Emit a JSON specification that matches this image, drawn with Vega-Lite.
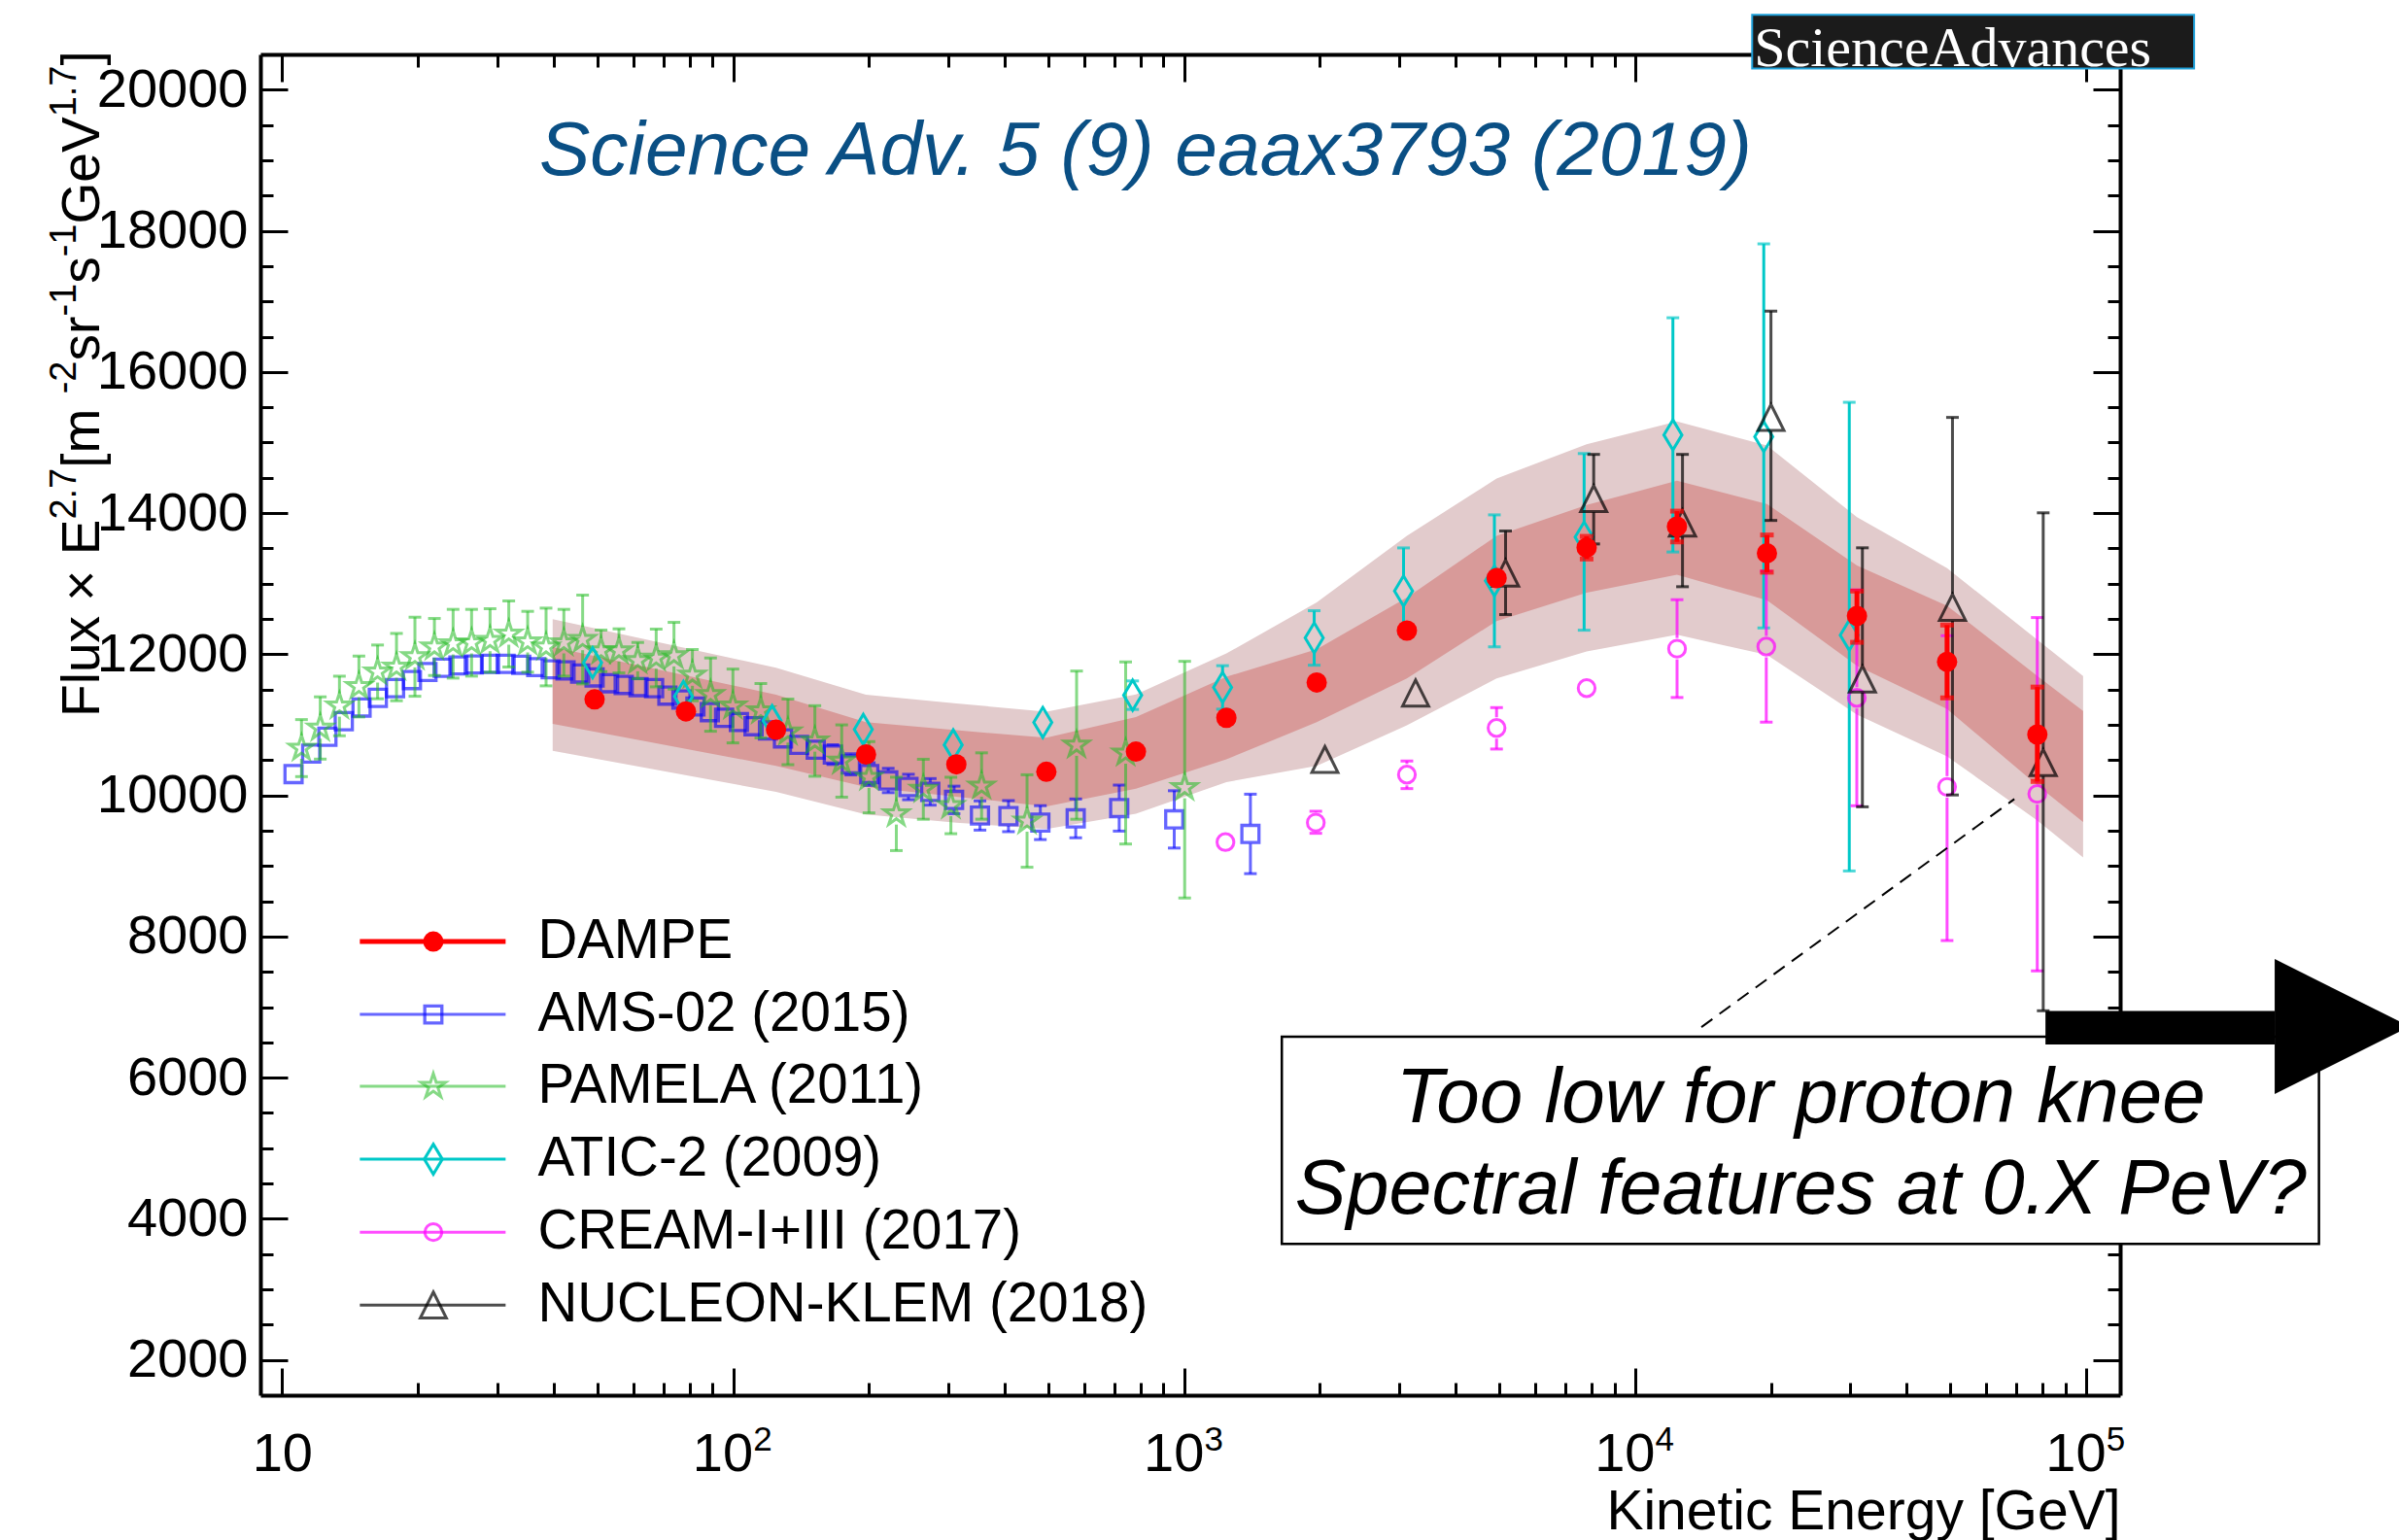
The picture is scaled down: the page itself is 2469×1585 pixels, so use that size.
{
  "$schema": "https://vega.github.io/schema/vega-lite/v6.json",
  "width": 1914,
  "height": 1380,
  "autosize": {"type": "none"},
  "padding": {"left": 268, "top": 56, "right": 287, "bottom": 149},
  "background": "white",
  "config": {"font": "Liberation Sans", "view": {"stroke": null}, "axis": {"grid": false, "zindex": 0}},
  "resolve": {"axis": {"x": "independent", "y": "independent"}},
  "datasets": {
    "band": [
      {"E": 39.8, "olo": 10633, "ilo": 11015, "ihi": 12103, "ohi": 12498},
      {"E": 124.5, "olo": 10050, "ilo": 10418, "ihi": 11428, "ohi": 11809},
      {"E": 197, "olo": 9729, "ilo": 10119, "ihi": 11038, "ohi": 11428},
      {"E": 312.6, "olo": 9614, "ilo": 9982, "ihi": 10923, "ohi": 11304},
      {"E": 495, "olo": 9522, "ilo": 9844, "ihi": 10817, "ohi": 11185},
      {"E": 782, "olo": 9740, "ilo": 10096, "ihi": 11110, "ohi": 11430},
      {"E": 1241, "olo": 10188, "ilo": 10510, "ihi": 11680, "ohi": 12011},
      {"E": 1968, "olo": 10418, "ilo": 11038, "ihi": 12071, "ohi": 12736},
      {"E": 3119, "olo": 10992, "ilo": 11657, "ihi": 12805, "ohi": 13678},
      {"E": 4931, "olo": 11657, "ilo": 12470, "ihi": 13678, "ohi": 14490},
      {"E": 7808, "olo": 12039, "ilo": 12874, "ihi": 14114, "ohi": 14974},
      {"E": 12384, "olo": 12277, "ilo": 13127, "ihi": 14458, "ohi": 15300},
      {"E": 19605, "olo": 11990, "ilo": 12765, "ihi": 14130, "ohi": 14958},
      {"E": 31045, "olo": 11144, "ilo": 11838, "ihi": 13258, "ohi": 13942},
      {"E": 49180, "olo": 10553, "ilo": 11225, "ihi": 12688, "ohi": 13219},
      {"E": 77980, "olo": 9645, "ilo": 10143, "ihi": 11692, "ohi": 12205},
      {"E": 98500, "olo": 9120, "ilo": 9624, "ihi": 11197, "ohi": 11692}
    ],
    "ams": [
      {"E": 10.6, "flux": 10302, "lo": 10242, "hi": 10362},
      {"E": 11.6, "flux": 10592, "lo": 10532, "hi": 10652},
      {"E": 12.6, "flux": 10831, "lo": 10771, "hi": 10891},
      {"E": 13.7, "flux": 11052, "lo": 10992, "hi": 11112},
      {"E": 15.0, "flux": 11245, "lo": 11185, "hi": 11305},
      {"E": 16.3, "flux": 11382, "lo": 11322, "hi": 11442},
      {"E": 17.8, "flux": 11520, "lo": 11460, "hi": 11580},
      {"E": 19.4, "flux": 11634, "lo": 11574, "hi": 11694},
      {"E": 21.0, "flux": 11749, "lo": 11689, "hi": 11809},
      {"E": 22.7, "flux": 11809, "lo": 11749, "hi": 11869},
      {"E": 24.6, "flux": 11841, "lo": 11781, "hi": 11901},
      {"E": 26.6, "flux": 11855, "lo": 11795, "hi": 11915},
      {"E": 28.9, "flux": 11864, "lo": 11804, "hi": 11924},
      {"E": 31.3, "flux": 11864, "lo": 11804, "hi": 11924},
      {"E": 33.9, "flux": 11851, "lo": 11791, "hi": 11911},
      {"E": 36.6, "flux": 11818, "lo": 11758, "hi": 11878},
      {"E": 39.4, "flux": 11786, "lo": 11726, "hi": 11846},
      {"E": 42.5, "flux": 11772, "lo": 11712, "hi": 11832},
      {"E": 45.8, "flux": 11727, "lo": 11667, "hi": 11787},
      {"E": 49.3, "flux": 11672, "lo": 11602, "hi": 11742},
      {"E": 53.1, "flux": 11589, "lo": 11519, "hi": 11659},
      {"E": 57.2, "flux": 11565, "lo": 11495, "hi": 11635},
      {"E": 61.7, "flux": 11534, "lo": 11454, "hi": 11614},
      {"E": 66.8, "flux": 11520, "lo": 11440, "hi": 11600},
      {"E": 71.5, "flux": 11414, "lo": 11334, "hi": 11494},
      {"E": 76.8, "flux": 11359, "lo": 11269, "hi": 11449},
      {"E": 82.5, "flux": 11260, "lo": 11170, "hi": 11350},
      {"E": 88.8, "flux": 11180, "lo": 11090, "hi": 11270},
      {"E": 95.5, "flux": 11100, "lo": 11000, "hi": 11200},
      {"E": 103, "flux": 11040, "lo": 10940, "hi": 11140},
      {"E": 111, "flux": 10980, "lo": 10880, "hi": 11080},
      {"E": 119.5, "flux": 10920, "lo": 10810, "hi": 11030},
      {"E": 129, "flux": 10808, "lo": 10698, "hi": 10918},
      {"E": 140, "flux": 10716, "lo": 10596, "hi": 10836},
      {"E": 152.5, "flux": 10647, "lo": 10517, "hi": 10777},
      {"E": 166.4, "flux": 10578, "lo": 10438, "hi": 10718},
      {"E": 182.4, "flux": 10440, "lo": 10290, "hi": 10590},
      {"E": 200.4, "flux": 10302, "lo": 10142, "hi": 10462},
      {"E": 220.8, "flux": 10211, "lo": 10039, "hi": 10383},
      {"E": 244.8, "flux": 10119, "lo": 9939, "hi": 10299},
      {"E": 273.6, "flux": 10050, "lo": 9862, "hi": 10238},
      {"E": 309, "flux": 9936, "lo": 9741, "hi": 10131},
      {"E": 352.7, "flux": 9715, "lo": 9508, "hi": 9922},
      {"E": 407.9, "flux": 9706, "lo": 9486, "hi": 9926},
      {"E": 480, "flux": 9614, "lo": 9374, "hi": 9854},
      {"E": 575, "flux": 9674, "lo": 9399, "hi": 9949},
      {"E": 718, "flux": 9820, "lo": 9494, "hi": 10146},
      {"E": 951, "flux": 9660, "lo": 9254, "hi": 10066},
      {"E": 1403, "flux": 9454, "lo": 8891, "hi": 10017}
    ],
    "pamela": [
      {"E": 11.04, "flux": 10670, "lo": 10266, "hi": 11074},
      {"E": 12.15, "flux": 10955, "lo": 10514, "hi": 11396},
      {"E": 13.4, "flux": 11267, "lo": 10845, "hi": 11689},
      {"E": 14.8, "flux": 11543, "lo": 11112, "hi": 11974},
      {"E": 16.28, "flux": 11750, "lo": 11369, "hi": 12131},
      {"E": 17.93, "flux": 11818, "lo": 11341, "hi": 12295},
      {"E": 19.7, "flux": 11965, "lo": 11405, "hi": 12525},
      {"E": 21.76, "flux": 12103, "lo": 11699, "hi": 12507},
      {"E": 23.94, "flux": 12149, "lo": 11662, "hi": 12636},
      {"E": 26.31, "flux": 12163, "lo": 11690, "hi": 12636},
      {"E": 28.91, "flux": 12195, "lo": 11745, "hi": 12645},
      {"E": 31.81, "flux": 12287, "lo": 11819, "hi": 12755},
      {"E": 35.03, "flux": 12177, "lo": 11746, "hi": 12608},
      {"E": 38.48, "flux": 12103, "lo": 11552, "hi": 12654},
      {"E": 42.14, "flux": 12163, "lo": 11690, "hi": 12636},
      {"E": 46.38, "flux": 12209, "lo": 11580, "hi": 12838},
      {"E": 50.96, "flux": 12048, "lo": 11754, "hi": 12342},
      {"E": 55.83, "flux": 12048, "lo": 11736, "hi": 12360},
      {"E": 61.45, "flux": 11910, "lo": 11653, "hi": 12167},
      {"E": 67.52, "flux": 11947, "lo": 11538, "hi": 12356},
      {"E": 73.94, "flux": 11979, "lo": 11506, "hi": 12452},
      {"E": 81.23, "flux": 11704, "lo": 11341, "hi": 12067},
      {"E": 89.13, "flux": 11428, "lo": 10909, "hi": 11947},
      {"E": 99.9, "flux": 11267, "lo": 10744, "hi": 11790},
      {"E": 115.2, "flux": 11200, "lo": 10814, "hi": 11586},
      {"E": 132.3, "flux": 10900, "lo": 10435, "hi": 11365},
      {"E": 151.8, "flux": 10771, "lo": 10271, "hi": 11271},
      {"E": 174.1, "flux": 10487, "lo": 9975, "hi": 10999},
      {"E": 200.1, "flux": 10257, "lo": 9752, "hi": 10762},
      {"E": 230.1, "flux": 9738, "lo": 9218, "hi": 10258},
      {"E": 264.1, "flux": 10087, "lo": 9662, "hi": 10512},
      {"E": 304, "flux": 9857, "lo": 9457, "hi": 10257},
      {"E": 355.6, "flux": 10133, "lo": 9663, "hi": 10603},
      {"E": 448.5, "flux": 9637, "lo": 8982, "hi": 10292},
      {"E": 577.6, "flux": 10712, "lo": 9662, "hi": 11762},
      {"E": 742, "flux": 10601, "lo": 9311, "hi": 11891},
      {"E": 1003, "flux": 10110, "lo": 8546, "hi": 11900}
    ],
    "atic": [
      {"E": 48.8, "flux": 11880, "lo": 11800, "hi": 11960},
      {"E": 77.6, "flux": 11404, "lo": 11324, "hi": 11484},
      {"E": 122, "flux": 11060, "lo": 10970, "hi": 11150},
      {"E": 194.4, "flux": 10935, "lo": 10835, "hi": 11035},
      {"E": 307.6, "flux": 10716, "lo": 10616, "hi": 10816},
      {"E": 486, "flux": 11033, "lo": 10923, "hi": 11143},
      {"E": 769, "flux": 11420, "lo": 11218, "hi": 11622},
      {"E": 1217, "flux": 11530, "lo": 11222, "hi": 11838},
      {"E": 1943, "flux": 12231, "lo": 11845, "hi": 12617},
      {"E": 3066, "flux": 12897, "lo": 12287, "hi": 13507},
      {"E": 4876, "flux": 13040, "lo": 12105, "hi": 13975},
      {"E": 7709, "flux": 13660, "lo": 12341, "hi": 14844},
      {"E": 12130, "flux": 15108, "lo": 13449, "hi": 16768},
      {"E": 19290, "flux": 15083, "lo": 12373, "hi": 17815},
      {"E": 29850, "flux": 12270, "lo": 8929, "hi": 15570}
    ],
    "cream": [
      {"E": 1235, "flux": 9338, "lo": 9278, "hi": 9398},
      {"E": 1959, "flux": 9614, "lo": 9463, "hi": 9775},
      {"E": 3119, "flux": 10294, "lo": 10096, "hi": 10487},
      {"E": 4930, "flux": 10955, "lo": 10657, "hi": 11244},
      {"E": 7809, "flux": 11520, "lo": 11460, "hi": 11580},
      {"E": 12390, "flux": 12079, "lo": 11387, "hi": 12773},
      {"E": 19540, "flux": 12108, "lo": 11038, "hi": 13178},
      {"E": 31020, "flux": 11382, "lo": 9853, "hi": 12911},
      {"E": 49180, "flux": 10121, "lo": 7943, "hi": 12263},
      {"E": 77940, "flux": 10021, "lo": 7513, "hi": 12520}
    ],
    "nucleon": [
      {"E": 2052, "flux": 10509, "lo": 10449, "hi": 10569},
      {"E": 3261, "flux": 11451, "lo": 11391, "hi": 11511},
      {"E": 5162, "flux": 13150, "lo": 12562, "hi": 13747},
      {"E": 8095, "flux": 14206, "lo": 13563, "hi": 14832},
      {"E": 12740, "flux": 13860, "lo": 12957, "hi": 14832},
      {"E": 20010, "flux": 15355, "lo": 13896, "hi": 16862},
      {"E": 31920, "flux": 11648, "lo": 9838, "hi": 13508},
      {"E": 50560, "flux": 12666, "lo": 10006, "hi": 15356},
      {"E": 80350, "flux": 10465, "lo": 6948, "hi": 14004}
    ],
    "dampe": [
      {"E": 49.3, "flux": 11360, "lo": 11300, "hi": 11420},
      {"E": 78.6, "flux": 11190, "lo": 11130, "hi": 11250},
      {"E": 124.5, "flux": 10930, "lo": 10870, "hi": 10990},
      {"E": 197.1, "flux": 10580, "lo": 10510, "hi": 10650},
      {"E": 312.6, "flux": 10440, "lo": 10360, "hi": 10520},
      {"E": 495, "flux": 10335, "lo": 10245, "hi": 10425},
      {"E": 782, "flux": 10620, "lo": 10520, "hi": 10720},
      {"E": 1241, "flux": 11100, "lo": 10990, "hi": 11210},
      {"E": 1968, "flux": 11600, "lo": 11480, "hi": 11720},
      {"E": 3119, "flux": 12335, "lo": 12205, "hi": 12465},
      {"E": 4931, "flux": 13080, "lo": 12940, "hi": 13220},
      {"E": 7808, "flux": 13510, "lo": 13350, "hi": 13670},
      {"E": 12384, "flux": 13810, "lo": 13592, "hi": 14028},
      {"E": 19605, "flux": 13431, "lo": 13163, "hi": 13690},
      {"E": 31045, "flux": 12543, "lo": 12169, "hi": 12895},
      {"E": 49180, "flux": 11893, "lo": 11382, "hi": 12414},
      {"E": 77980, "flux": 10862, "lo": 10197, "hi": 11535}
    ]
  },
  "layer": [
    {
      "data": {"name": "band"},
      "mark": {"type": "area", "color": "#e2cbcc", "opacity": 1},
      "encoding": {
        "x": {"field": "E", "type": "quantitative",
          "scale": {"type": "log", "domain": [8.95, 119000], "nice": false},
          "axis": {"orient": "bottom", "values": [10], "labelExpr": "'10'", "ticks": false, "domain": false, "grid": false,
            "labelFontSize": 56, "labelColor": "black", "labelPadding": 77, "labelBaseline": "alphabetic", "labelFlush": false, "labelOverlap": false,
            "title": "Kinetic Energy [GeV]", "titleFontSize": 57, "titleFontWeight": "normal", "titleColor": "black",
            "titleX": 1914, "titleY": 137, "titleAlign": "right", "titleBaseline": "alphabetic", "zindex": 0}},
        "y": {"field": "olo", "type": "quantitative",
          "scale": {"domain": [1500, 20500], "nice": false, "zero": false},
          "axis": {"orient": "left", "values": [2000, 4000, 6000, 8000, 10000, 12000, 14000, 16000, 18000, 20000], "format": "d",
            "ticks": false, "domain": false, "grid": false, "labelFontSize": 56, "labelColor": "black", "labelPadding": 13,
            "labelOverlap": false, "labelFlush": false, "title": null, "zindex": 0}},
        "y2": {"field": "ohi"}
      }
    },
    {
      "data": {"name": "band"},
      "mark": {"type": "area", "color": "#d89a99", "opacity": 1},
      "encoding": {
        "x": {"field": "E", "type": "quantitative",
          "scale": {"type": "log", "domain": [8.95, 119000], "nice": false},
          "axis": {"orient": "bottom", "values": [100, 1000, 10000, 100000], "labelExpr": "'10'", "labelOffset": -11, "ticks": false, "domain": false, "grid": false,
            "labelFontSize": 56, "labelColor": "black", "labelPadding": 77, "labelBaseline": "alphabetic", "labelFlush": false, "labelOverlap": false,
            "title": null, "zindex": 0}},
        "y": {"field": "ilo", "type": "quantitative",
          "scale": {"domain": [1500, 20500], "nice": false, "zero": false},
          "axis": {"orient": "left", "values": [2000, 4000, 6000, 8000, 10000, 12000, 14000, 16000, 18000, 20000],
            "labels": false, "tickSize": -28, "tickWidth": 3, "tickColor": "black", "domain": true, "domainColor": "black", "domainWidth": 4,
            "grid": false, "title": null, "zindex": 0}},
        "y2": {"field": "ihi"}
      }
    },
    {
      "data": {"name": "ams"},
      "layer": [
        {
          "transform": [{"filter": "datum.hi - datum.flux > 138"}],
          "layer": [
            {"mark": {"type": "rule", "color": "#0000ff", "opacity": 0.6, "strokeWidth": 3, "y2Offset": -10},
             "encoding": {"x": {"field": "E", "type": "quantitative", "axis": null}, "y": {"field": "hi", "type": "quantitative", "axis": null}, "y2": {"field": "flux"}}},
            {"mark": {"type": "rule", "color": "#0000ff", "opacity": 0.6, "strokeWidth": 3, "y2Offset": 10},
             "encoding": {"x": {"field": "E", "type": "quantitative", "axis": null}, "y": {"field": "lo", "type": "quantitative", "axis": null}, "y2": {"field": "flux"}}},
            {"mark": {"type": "tick", "orient": "horizontal", "color": "#0000ff", "opacity": 0.6, "size": 13, "thickness": 3},
             "encoding": {"x": {"field": "E", "type": "quantitative", "axis": null}, "y": {"field": "hi", "type": "quantitative", "axis": null}}},
            {"mark": {"type": "tick", "orient": "horizontal", "color": "#0000ff", "opacity": 0.6, "size": 13, "thickness": 3},
             "encoding": {"x": {"field": "E", "type": "quantitative", "axis": null}, "y": {"field": "lo", "type": "quantitative", "axis": null}}}
          ]
        },
        {"mark": {"type": "point", "shape": "square", "filled": false, "color": "#0000ff", "strokeWidth": 3.3, "opacity": 0.6, "size": 310},
         "encoding": {"x": {"field": "E", "type": "quantitative", "axis": null}, "y": {"field": "flux", "type": "quantitative", "axis": null}}}
      ]
    },
    {
      "data": {"name": "pamela"},
      "layer": [
        {
          "transform": [{"filter": "datum.hi - datum.flux > 170"}],
          "layer": [
            {"mark": {"type": "rule", "color": "#22bb22", "opacity": 0.55, "strokeWidth": 3, "y2Offset": -13},
             "encoding": {"x": {"field": "E", "type": "quantitative", "axis": null}, "y": {"field": "hi", "type": "quantitative", "axis": null}, "y2": {"field": "flux"}}},
            {"mark": {"type": "rule", "color": "#22bb22", "opacity": 0.55, "strokeWidth": 3, "y2Offset": 11},
             "encoding": {"x": {"field": "E", "type": "quantitative", "axis": null}, "y": {"field": "lo", "type": "quantitative", "axis": null}, "y2": {"field": "flux"}}},
            {"mark": {"type": "tick", "orient": "horizontal", "color": "#22bb22", "opacity": 0.55, "size": 13, "thickness": 3},
             "encoding": {"x": {"field": "E", "type": "quantitative", "axis": null}, "y": {"field": "hi", "type": "quantitative", "axis": null}}},
            {"mark": {"type": "tick", "orient": "horizontal", "color": "#22bb22", "opacity": 0.55, "size": 13, "thickness": 3},
             "encoding": {"x": {"field": "E", "type": "quantitative", "axis": null}, "y": {"field": "lo", "type": "quantitative", "axis": null}}}
          ]
        },
        {"mark": {"type": "point", "shape": "M0,-1L0.2245,-0.309L0.951,-0.309L0.3633,0.118L0.588,0.809L0,0.382L-0.588,0.809L-0.3633,0.118L-0.951,-0.309L-0.2245,-0.309Z",
                  "filled": false, "color": "#22bb22", "strokeWidth": 3, "opacity": 0.55, "size": 700},
         "encoding": {"x": {"field": "E", "type": "quantitative", "axis": null}, "y": {"field": "flux", "type": "quantitative", "axis": null}}}
      ]
    },
    {
      "data": {"name": "atic"},
      "layer": [
        {
          "transform": [{"filter": "datum.hi - datum.flux > 150"}],
          "layer": [
            {"mark": {"type": "rule", "color": "#00c8c8", "strokeWidth": 3, "y2Offset": -15},
             "encoding": {"x": {"field": "E", "type": "quantitative", "axis": null}, "y": {"field": "hi", "type": "quantitative", "axis": null}, "y2": {"field": "flux"}}},
            {"mark": {"type": "rule", "color": "#00c8c8", "strokeWidth": 3, "y2Offset": 15},
             "encoding": {"x": {"field": "E", "type": "quantitative", "axis": null}, "y": {"field": "lo", "type": "quantitative", "axis": null}, "y2": {"field": "flux"}}},
            {"mark": {"type": "tick", "orient": "horizontal", "color": "#00c8c8", "size": 13, "thickness": 3},
             "encoding": {"x": {"field": "E", "type": "quantitative", "axis": null}, "y": {"field": "hi", "type": "quantitative", "axis": null}}},
            {"mark": {"type": "tick", "orient": "horizontal", "color": "#00c8c8", "size": 13, "thickness": 3},
             "encoding": {"x": {"field": "E", "type": "quantitative", "axis": null}, "y": {"field": "lo", "type": "quantitative", "axis": null}}}
          ]
        },
        {"mark": {"type": "point", "shape": "M0,-1L0.6,0L0,1L-0.6,0Z", "filled": false, "color": "#00c8c8", "strokeWidth": 3, "opacity": 1, "size": 961},
         "encoding": {"x": {"field": "E", "type": "quantitative", "axis": null}, "y": {"field": "flux", "type": "quantitative", "axis": null}}}
      ]
    },
    {
      "data": {"name": "cream"},
      "layer": [
        {
          "transform": [{"filter": "datum.hi - datum.flux > 100"}],
          "layer": [
            {"mark": {"type": "rule", "color": "#ff00ff", "opacity": 0.7, "strokeWidth": 3, "y2Offset": -11},
             "encoding": {"x": {"field": "E", "type": "quantitative", "axis": null}, "y": {"field": "hi", "type": "quantitative", "axis": null}, "y2": {"field": "flux"}}},
            {"mark": {"type": "rule", "color": "#ff00ff", "opacity": 0.7, "strokeWidth": 3, "y2Offset": 11},
             "encoding": {"x": {"field": "E", "type": "quantitative", "axis": null}, "y": {"field": "lo", "type": "quantitative", "axis": null}, "y2": {"field": "flux"}}},
            {"mark": {"type": "tick", "orient": "horizontal", "color": "#ff00ff", "opacity": 0.7, "size": 13, "thickness": 3},
             "encoding": {"x": {"field": "E", "type": "quantitative", "axis": null}, "y": {"field": "hi", "type": "quantitative", "axis": null}}},
            {"mark": {"type": "tick", "orient": "horizontal", "color": "#ff00ff", "opacity": 0.7, "size": 13, "thickness": 3},
             "encoding": {"x": {"field": "E", "type": "quantitative", "axis": null}, "y": {"field": "lo", "type": "quantitative", "axis": null}}}
          ]
        },
        {"mark": {"type": "point", "shape": "circle", "filled": false, "color": "#ff00ff", "strokeWidth": 3, "opacity": 0.7, "size": 300},
         "encoding": {"x": {"field": "E", "type": "quantitative", "axis": null}, "y": {"field": "flux", "type": "quantitative", "axis": null}}}
      ]
    },
    {
      "data": {"name": "nucleon"},
      "layer": [
        {
          "transform": [{"filter": "datum.hi - datum.flux > 180"}],
          "layer": [
            {"mark": {"type": "rule", "color": "#000000", "opacity": 0.7, "strokeWidth": 3, "y2Offset": -14},
             "encoding": {"x": {"field": "E", "type": "quantitative", "axis": null}, "y": {"field": "hi", "type": "quantitative", "axis": null}, "y2": {"field": "flux"}}},
            {"mark": {"type": "rule", "color": "#000000", "opacity": 0.7, "strokeWidth": 3, "y2Offset": 14},
             "encoding": {"x": {"field": "E", "type": "quantitative", "axis": null}, "y": {"field": "lo", "type": "quantitative", "axis": null}, "y2": {"field": "flux"}}},
            {"mark": {"type": "tick", "orient": "horizontal", "color": "#000000", "opacity": 0.7, "size": 13, "thickness": 3},
             "encoding": {"x": {"field": "E", "type": "quantitative", "axis": null}, "y": {"field": "hi", "type": "quantitative", "axis": null}}},
            {"mark": {"type": "tick", "orient": "horizontal", "color": "#000000", "opacity": 0.7, "size": 13, "thickness": 3},
             "encoding": {"x": {"field": "E", "type": "quantitative", "axis": null}, "y": {"field": "lo", "type": "quantitative", "axis": null}}}
          ]
        },
        {"mark": {"type": "point", "shape": "M0,-1L1,1L-1,1Z", "filled": false, "color": "#000000", "strokeWidth": 3, "opacity": 0.7, "size": 720},
         "encoding": {"x": {"field": "E", "type": "quantitative", "axis": null}, "y": {"field": "flux", "type": "quantitative", "axis": null}}}
      ]
    },
    {
      "data": {"name": "dampe"},
      "layer": [
        {"mark": {"type": "rule", "color": "#ff0000", "strokeWidth": 5},
         "encoding": {"x": {"field": "E", "type": "quantitative", "axis": null}, "y": {"field": "lo", "type": "quantitative", "axis": null}, "y2": {"field": "hi"}}},
        {
          "transform": [{"filter": "datum.hi - datum.flux > 150"}],
          "layer": [
            {"mark": {"type": "tick", "orient": "horizontal", "color": "#ff0000", "size": 14, "thickness": 5},
             "encoding": {"x": {"field": "E", "type": "quantitative", "axis": null}, "y": {"field": "hi", "type": "quantitative", "axis": null}}},
            {"mark": {"type": "tick", "orient": "horizontal", "color": "#ff0000", "size": 14, "thickness": 5},
             "encoding": {"x": {"field": "E", "type": "quantitative", "axis": null}, "y": {"field": "lo", "type": "quantitative", "axis": null}}}
          ]
        },
        {"mark": {"type": "point", "shape": "circle", "filled": true, "color": "#ff0000", "opacity": 1, "size": 440},
         "encoding": {"x": {"field": "E", "type": "quantitative", "axis": null}, "y": {"field": "flux", "type": "quantitative", "axis": null}}}
      ]
    },
    {
      "data": {"values": [{}]},
      "layer": [
        {"mark": {"type": "rule", "color": "#ff0000", "strokeWidth": 5},
         "encoding": {"x": {"datum": 14.87, "type": "quantitative", "axis": null}, "x2": {"datum": 31.3}, "y": {"datum": 7929, "type": "quantitative", "axis": null}}},
        {"mark": {"type": "point", "shape": "circle", "filled": true, "color": "#ff0000", "opacity": 1, "size": 440},
         "encoding": {"x": {"datum": 21.64, "type": "quantitative", "axis": null}, "y": {"datum": 7929, "type": "quantitative", "axis": null}}},
        {"mark": {"type": "text", "align": "left", "baseline": "middle", "fontSize": 56.5, "color": "black"},
         "encoding": {"x": {"datum": 36.87, "type": "quantitative", "axis": null}, "y": {"datum": 7929, "type": "quantitative", "axis": null}, "text": {"value": "DAMPE"}}}
      ]
    },
    {
      "data": {"values": [{}]},
      "layer": [
        {"mark": {"type": "rule", "color": "#0000ff", "opacity": 0.6, "strokeWidth": 3},
         "encoding": {"x": {"datum": 14.87, "type": "quantitative", "axis": null}, "x2": {"datum": 31.3}, "y": {"datum": 6896, "type": "quantitative", "axis": null}}},
        {"mark": {"type": "point", "shape": "square", "filled": false, "color": "#0000ff", "strokeWidth": 3.3, "opacity": 0.6, "size": 310},
         "encoding": {"x": {"datum": 21.64, "type": "quantitative", "axis": null}, "y": {"datum": 6896, "type": "quantitative", "axis": null}}},
        {"mark": {"type": "text", "align": "left", "baseline": "middle", "fontSize": 56.5, "color": "black"},
         "encoding": {"x": {"datum": 36.87, "type": "quantitative", "axis": null}, "y": {"datum": 6896, "type": "quantitative", "axis": null}, "text": {"value": "AMS-02 (2015)"}}}
      ]
    },
    {
      "data": {"values": [{}]},
      "layer": [
        {"mark": {"type": "rule", "color": "#22bb22", "opacity": 0.55, "strokeWidth": 3},
         "encoding": {"x": {"datum": 14.87, "type": "quantitative", "axis": null}, "x2": {"datum": 31.3}, "y": {"datum": 5877, "type": "quantitative", "axis": null}}},
        {"mark": {"type": "point", "shape": "M0,-1L0.2245,-0.309L0.951,-0.309L0.3633,0.118L0.588,0.809L0,0.382L-0.588,0.809L-0.3633,0.118L-0.951,-0.309L-0.2245,-0.309Z",
                  "filled": false, "color": "#22bb22", "strokeWidth": 3, "opacity": 0.55, "size": 700},
         "encoding": {"x": {"datum": 21.64, "type": "quantitative", "axis": null}, "y": {"datum": 5877, "type": "quantitative", "axis": null}}},
        {"mark": {"type": "text", "align": "left", "baseline": "middle", "fontSize": 56.5, "color": "black"},
         "encoding": {"x": {"datum": 36.87, "type": "quantitative", "axis": null}, "y": {"datum": 5877, "type": "quantitative", "axis": null}, "text": {"value": "PAMELA (2011)"}}}
      ]
    },
    {
      "data": {"values": [{}]},
      "layer": [
        {"mark": {"type": "rule", "color": "#00c8c8", "strokeWidth": 3},
         "encoding": {"x": {"datum": 14.87, "type": "quantitative", "axis": null}, "x2": {"datum": 31.3}, "y": {"datum": 4844, "type": "quantitative", "axis": null}}},
        {"mark": {"type": "point", "shape": "M0,-1L0.6,0L0,1L-0.6,0Z", "filled": false, "color": "#00c8c8", "strokeWidth": 3, "opacity": 1, "size": 961},
         "encoding": {"x": {"datum": 21.64, "type": "quantitative", "axis": null}, "y": {"datum": 4844, "type": "quantitative", "axis": null}}},
        {"mark": {"type": "text", "align": "left", "baseline": "middle", "fontSize": 56.5, "color": "black"},
         "encoding": {"x": {"datum": 36.87, "type": "quantitative", "axis": null}, "y": {"datum": 4844, "type": "quantitative", "axis": null}, "text": {"value": "ATIC-2 (2009)"}}}
      ]
    },
    {
      "data": {"values": [{}]},
      "layer": [
        {"mark": {"type": "rule", "color": "#ff00ff", "opacity": 0.7, "strokeWidth": 3},
         "encoding": {"x": {"datum": 14.87, "type": "quantitative", "axis": null}, "x2": {"datum": 31.3}, "y": {"datum": 3811, "type": "quantitative", "axis": null}}},
        {"mark": {"type": "point", "shape": "circle", "filled": false, "color": "#ff00ff", "strokeWidth": 3, "opacity": 0.7, "size": 300},
         "encoding": {"x": {"datum": 21.64, "type": "quantitative", "axis": null}, "y": {"datum": 3811, "type": "quantitative", "axis": null}}},
        {"mark": {"type": "text", "align": "left", "baseline": "middle", "fontSize": 56.5, "color": "black"},
         "encoding": {"x": {"datum": 36.87, "type": "quantitative", "axis": null}, "y": {"datum": 3811, "type": "quantitative", "axis": null}, "text": {"value": "CREAM-I+III (2017)"}}}
      ]
    },
    {
      "data": {"values": [{}]},
      "layer": [
        {"mark": {"type": "rule", "color": "#000000", "opacity": 0.7, "strokeWidth": 3},
         "encoding": {"x": {"datum": 14.87, "type": "quantitative", "axis": null}, "x2": {"datum": 31.3}, "y": {"datum": 2778, "type": "quantitative", "axis": null}}},
        {"mark": {"type": "point", "shape": "M0,-1L1,1L-1,1Z", "filled": false, "color": "#000000", "strokeWidth": 3, "opacity": 0.7, "size": 720},
         "encoding": {"x": {"datum": 21.64, "type": "quantitative", "axis": null}, "y": {"datum": 2778, "type": "quantitative", "axis": null}}},
        {"mark": {"type": "text", "align": "left", "baseline": "middle", "fontSize": 56.5, "color": "black"},
         "encoding": {"x": {"datum": 36.87, "type": "quantitative", "axis": null}, "y": {"datum": 2778, "type": "quantitative", "axis": null}, "text": {"value": "NUCLEON-KLEM (2018)"}}}
      ]
    },
    {
      "data": {"values": [{}]},
      "layer": [
        {"mark": {"type": "text", "angle": 270, "align": "left", "baseline": "alphabetic", "fontSize": 55, "color": "black"},
         "encoding": {"x": {"datum": 3.936, "type": "quantitative", "axis": null}, "y": {"datum": 11111, "type": "quantitative", "axis": null}, "text": {"value": "Flux × E"}}},
        {"mark": {"type": "text", "angle": 270, "align": "left", "baseline": "alphabetic", "fontSize": 38, "color": "black"},
         "encoding": {"x": {"datum": 3.494, "type": "quantitative", "axis": null}, "y": {"datum": 13911, "type": "quantitative", "axis": null}, "text": {"value": "2.7"}}},
        {"mark": {"type": "text", "angle": 270, "align": "left", "baseline": "alphabetic", "fontSize": 55, "color": "black"},
         "encoding": {"x": {"datum": 3.936, "type": "quantitative", "axis": null}, "y": {"datum": 14639, "type": "quantitative", "axis": null}, "text": {"value": " [m"}}},
        {"mark": {"type": "text", "angle": 270, "align": "left", "baseline": "alphabetic", "fontSize": 38, "color": "black"},
         "encoding": {"x": {"datum": 3.494, "type": "quantitative", "axis": null}, "y": {"datum": 15691, "type": "quantitative", "axis": null}, "text": {"value": "-2"}}},
        {"mark": {"type": "text", "angle": 270, "align": "left", "baseline": "alphabetic", "fontSize": 55, "color": "black"},
         "encoding": {"x": {"datum": 3.936, "type": "quantitative", "axis": null}, "y": {"datum": 16157, "type": "quantitative", "axis": null}, "text": {"value": "sr"}}},
        {"mark": {"type": "text", "angle": 270, "align": "left", "baseline": "alphabetic", "fontSize": 38, "color": "black"},
         "encoding": {"x": {"datum": 3.494, "type": "quantitative", "axis": null}, "y": {"datum": 16788, "type": "quantitative", "axis": null}, "text": {"value": "-1"}}},
        {"mark": {"type": "text", "angle": 270, "align": "left", "baseline": "alphabetic", "fontSize": 55, "color": "black"},
         "encoding": {"x": {"datum": 3.936, "type": "quantitative", "axis": null}, "y": {"datum": 17253, "type": "quantitative", "axis": null}, "text": {"value": "s"}}},
        {"mark": {"type": "text", "angle": 270, "align": "left", "baseline": "alphabetic", "fontSize": 38, "color": "black"},
         "encoding": {"x": {"datum": 3.494, "type": "quantitative", "axis": null}, "y": {"datum": 17632, "type": "quantitative", "axis": null}, "text": {"value": "-1"}}},
        {"mark": {"type": "text", "angle": 270, "align": "left", "baseline": "alphabetic", "fontSize": 55, "color": "black"},
         "encoding": {"x": {"datum": 3.936, "type": "quantitative", "axis": null}, "y": {"datum": 18098, "type": "quantitative", "axis": null}, "text": {"value": "GeV"}}},
        {"mark": {"type": "text", "angle": 270, "align": "left", "baseline": "alphabetic", "fontSize": 38, "color": "black"},
         "encoding": {"x": {"datum": 3.494, "type": "quantitative", "axis": null}, "y": {"datum": 19614, "type": "quantitative", "axis": null}, "text": {"value": "1.7"}}},
        {"mark": {"type": "text", "angle": 270, "align": "left", "baseline": "alphabetic", "fontSize": 55, "color": "black"},
         "encoding": {"x": {"datum": 3.936, "type": "quantitative", "axis": null}, "y": {"datum": 20342, "type": "quantitative", "axis": null}, "text": {"value": "]"}}}
      ]
    },
    {
      "data": {"values": [{}]},
      "mark": {"type": "text", "align": "left", "baseline": "alphabetic", "fontSize": 78.5, "fontStyle": "italic", "color": "#0a4f84"},
      "encoding": {
        "x": {"datum": 37.15, "type": "quantitative",
          "axis": {"orient": "bottom", "values": [100, 1000, 10000, 100000], "labelExpr": "'' + round(log(datum.value) / LN10)", "labelOffset": 30,
            "ticks": false, "domain": false, "grid": false, "labelFontSize": 35, "labelColor": "black", "labelPadding": 56, "labelBaseline": "alphabetic",
            "labelFlush": false, "labelOverlap": false, "title": null, "zindex": 0}},
        "y": {"datum": 18797, "type": "quantitative",
          "axis": {"orient": "left", "values": [2500, 3000, 3500, 4500, 5000, 5500, 6500, 7000, 7500, 8500, 9000, 9500, 10500, 11000, 11500, 12500, 13000, 13500, 14500, 15000, 15500, 16500, 17000, 17500, 18500, 19000, 19500],
            "labels": false, "tickSize": -13, "tickWidth": 3, "tickColor": "black", "domain": false, "grid": false, "title": null, "zindex": 0}},
        "text": {"value": "Science Adv. 5 (9) eaax3793 (2019)"}
      }
    },
    {
      "data": {"values": [{}]},
      "mark": {"type": "rule", "color": "black", "strokeWidth": 2, "strokeDash": [14, 9]},
      "encoding": {
        "x": {"datum": 14030, "type": "quantitative",
          "axis": {"orient": "bottom", "values": [10, 100, 1000, 10000, 100000], "labels": false, "tickSize": -28, "tickWidth": 3, "tickColor": "black",
            "domain": true, "domainColor": "black", "domainWidth": 4, "grid": false, "title": null, "zindex": 0}},
        "x2": {"datum": 69340},
        "y": {"datum": 6717, "type": "quantitative",
          "axis": {"orient": "right", "values": [2000, 4000, 6000, 8000, 10000, 12000, 14000, 16000, 18000, 20000], "labels": false, "tickSize": -28, "tickWidth": 3, "tickColor": "black",
            "domain": true, "domainColor": "black", "domainWidth": 4, "grid": false, "title": null, "zindex": 0}},
        "y2": {"datum": 9948}
      }
    },
    {
      "data": {"values": [{}]},
      "mark": {"type": "rect", "fill": "white", "stroke": "black", "strokeWidth": 2.5},
      "encoding": {
        "x": {"datum": 1647, "type": "quantitative",
          "axis": {"orient": "bottom", "values": [20, 30, 40, 50, 60, 70, 80, 90, 200, 300, 400, 500, 600, 700, 800, 900, 2000, 3000, 4000, 5000, 6000, 7000, 8000, 9000, 20000, 30000, 40000, 50000, 60000, 70000, 80000, 90000],
            "labels": false, "tickSize": -13, "tickWidth": 3, "tickColor": "black", "domain": false, "grid": false, "title": null, "zindex": 0}},
        "x2": {"datum": 328400},
        "y": {"datum": 3645, "type": "quantitative",
          "axis": {"orient": "right", "values": [2500, 3000, 3500, 4500, 5000, 5500, 6500, 7000, 7500, 8500, 9000, 9500, 10500, 11000, 11500, 12500, 13000, 13500, 14500, 15000, 15500, 16500, 17000, 17500, 18500, 19000, 19500],
            "labels": false, "tickSize": -13, "tickWidth": 3, "tickColor": "black", "domain": false, "grid": false, "title": null, "zindex": 0}},
        "y2": {"datum": 6579}
      }
    },
    {
      "data": {"values": [{}]},
      "mark": {"type": "text", "align": "center", "baseline": "alphabetic", "fontSize": 80, "fontStyle": "italic", "color": "black"},
      "encoding": {
        "x": {"datum": 23290, "type": "quantitative",
          "axis": {"orient": "top", "values": [10, 100, 1000, 10000, 100000], "labels": false, "tickSize": -28, "tickWidth": 3, "tickColor": "black",
            "domain": true, "domainColor": "black", "domainWidth": 4, "grid": false, "title": null, "zindex": 0}},
        "y": {"datum": 5367, "type": "quantitative", "axis": null},
        "text": {"value": "Too low for proton knee"}
      }
    },
    {
      "data": {"values": [{}]},
      "mark": {"type": "text", "align": "center", "baseline": "alphabetic", "fontSize": 79, "fontStyle": "italic", "color": "black"},
      "encoding": {
        "x": {"datum": 23290, "type": "quantitative",
          "axis": {"orient": "top", "values": [20, 30, 40, 50, 60, 70, 80, 90, 200, 300, 400, 500, 600, 700, 800, 900, 2000, 3000, 4000, 5000, 6000, 7000, 8000, 9000, 20000, 30000, 40000, 50000, 60000, 70000, 80000, 90000],
            "labels": false, "tickSize": -13, "tickWidth": 3, "tickColor": "black", "domain": false, "grid": false, "title": null, "zindex": 0}},
        "y": {"datum": 4072, "type": "quantitative", "axis": null},
        "text": {"value": "Spectral features at 0.X PeV?"}
      }
    },
    {
      "data": {"values": [{}]},
      "mark": {"type": "rect", "fill": "black"},
      "encoding": {
        "x": {"datum": 81280, "type": "quantitative", "axis": null},
        "x2": {"datum": 262000},
        "y": {"datum": 6469, "type": "quantitative", "axis": null},
        "y2": {"datum": 6944}
      }
    },
    {
      "data": {"values": [{}]},
      "mark": {"type": "point", "shape": "M-1,-1L1,0L-1,1Z", "filled": true, "color": "black", "opacity": 1, "size": 19321},
      "encoding": {
        "x": {"datum": 369800, "type": "quantitative", "axis": null},
        "y": {"datum": 6724, "type": "quantitative", "axis": null}
      }
    },
    {
      "data": {"values": [{}]},
      "mark": {"type": "rect", "fill": "#1b1b1b", "stroke": "#1e9fd8", "strokeWidth": 2},
      "encoding": {
        "x": {"datum": 18180, "type": "quantitative", "axis": null},
        "x2": {"datum": 173600},
        "y": {"datum": 20299, "type": "quantitative", "axis": null},
        "y2": {"datum": 21061}
      }
    },
    {
      "data": {"values": [{}]},
      "mark": {"type": "text", "align": "left", "baseline": "alphabetic", "fontSize": 58, "font": "Liberation Serif", "color": "white"},
      "encoding": {
        "x": {"datum": 18350, "type": "quantitative", "axis": null},
        "y": {"datum": 20336, "type": "quantitative", "axis": null},
        "text": {"value": "ScienceAdvances"}
      }
    }
  ]
}
